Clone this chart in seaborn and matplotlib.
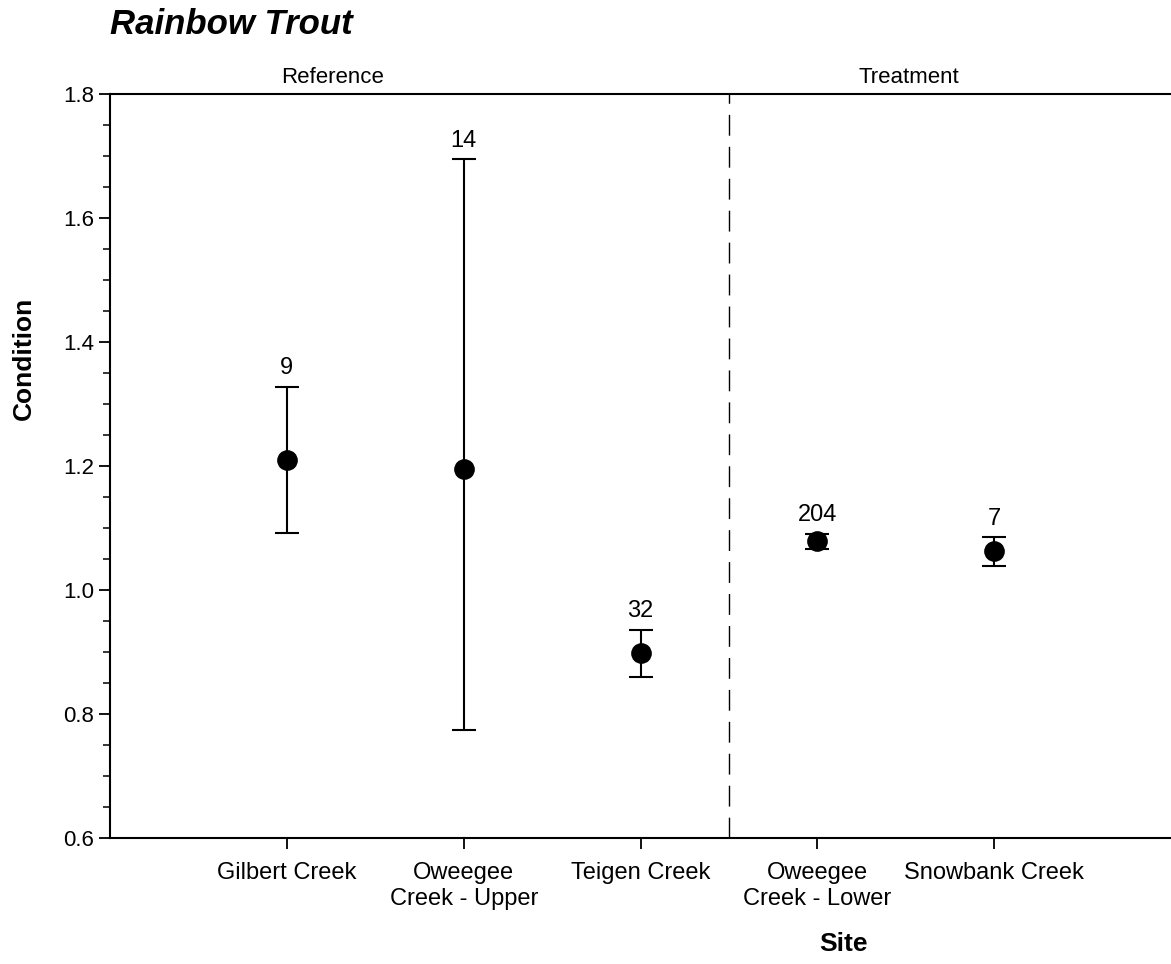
import numpy as np
import pandas as pd
import seaborn as sns
import matplotlib.pyplot as plt
from matplotlib.ticker import MultipleLocator

# site order as drawn
sites = ['Gilbert Creek', 'Oweegee\nCreek - Upper', 'Teigen Creek',
         'Oweegee\nCreek - Lower', 'Snowbank Creek']
cond_mean = [1.210, 1.195, 0.899, 1.079, 1.063]
cond_low = [1.092, 0.774, 0.860, 1.066, 1.039]
cond_high = [1.328, 1.695, 0.936, 1.091, 1.085]
n_fish = [9, 14, 32, 204, 7]

df = pd.DataFrame({'site': sites, 'mean': cond_mean, 'low': cond_low,
                   'high': cond_high, 'n': n_fish})

sns.set_style('ticks')
plt.rcParams['font.family'] = ['Liberation Sans', 'DejaVu Sans']
plt.rcParams['text.color'] = 'black'
plt.rcParams['axes.labelcolor'] = 'black'
plt.rcParams['xtick.color'] = 'black'
plt.rcParams['ytick.color'] = 'black'
plt.rcParams['axes.edgecolor'] = 'black'

fig = plt.figure(figsize=(11.71, 9.64), dpi=100)
ax = fig.add_axes([0.094, 0.1307, 0.906, 0.7718])

# error bars first, points on top
ax.errorbar(np.arange(len(df)), df['mean'],
            yerr=[df['mean'] - df['low'], df['high'] - df['mean']],
            fmt='none', ecolor='black', elinewidth=1.5, capsize=8.5,
            capthick=1.5, zorder=2)
sns.scatterplot(data=df, x='site', y='mean', color='black', s=190,
                edgecolor='black', ax=ax, zorder=3, legend=False)

# sample sizes above the upper caps
for i, row in df.iterrows():
    ax.text(i, row['high'] + 0.012, str(row['n']), ha='center', va='bottom',
            fontsize=17)

# reference / treatment divider
ax.axvline(2.5, color='black', lw=1, dashes=(15, 8))
ax.text(0.26, 1.81, 'Reference', ha='center', va='bottom', fontsize=16)
ax.text(3.52, 1.81, 'Treatment', ha='center', va='bottom', fontsize=16)

ax.set_xlim(-1, 5)
ax.set_ylim(0.6, 1.8)
ax.yaxis.set_major_locator(MultipleLocator(0.2))
ax.yaxis.set_minor_locator(MultipleLocator(0.05))
ax.yaxis.set_major_formatter(plt.FormatStrFormatter('%.1f'))
ax.set_xticks(range(len(sites)))
ax.set_xticklabels(sites, fontsize=17, linespacing=1.25)
ax.tick_params(axis='y', labelsize=16, length=8, width=1.3)
ax.tick_params(axis='y', which='minor', length=5, width=1.1)
ax.tick_params(axis='x', length=8, width=1.3, pad=9)

for side in ['left', 'bottom', 'top']:
    ax.spines[side].set_linewidth(1.5)
ax.spines['right'].set_visible(False)

ax.set_xlabel('Site', fontsize=19, fontweight='bold')
ax.set_ylabel('Condition', fontsize=19, fontweight='bold')
# axis titles sit off-centre in the original (cropped) figure
ax.xaxis.set_label_coords(4.15 / 6, -0.127)
ax.yaxis.set_label_coords(-0.07, 0.645)

fig.text(0.094, 0.975, 'Rainbow Trout', fontsize=25, fontweight='bold',
         fontstyle='italic', ha='left', va='center')

fig.savefig('out.png', dpi=100)
